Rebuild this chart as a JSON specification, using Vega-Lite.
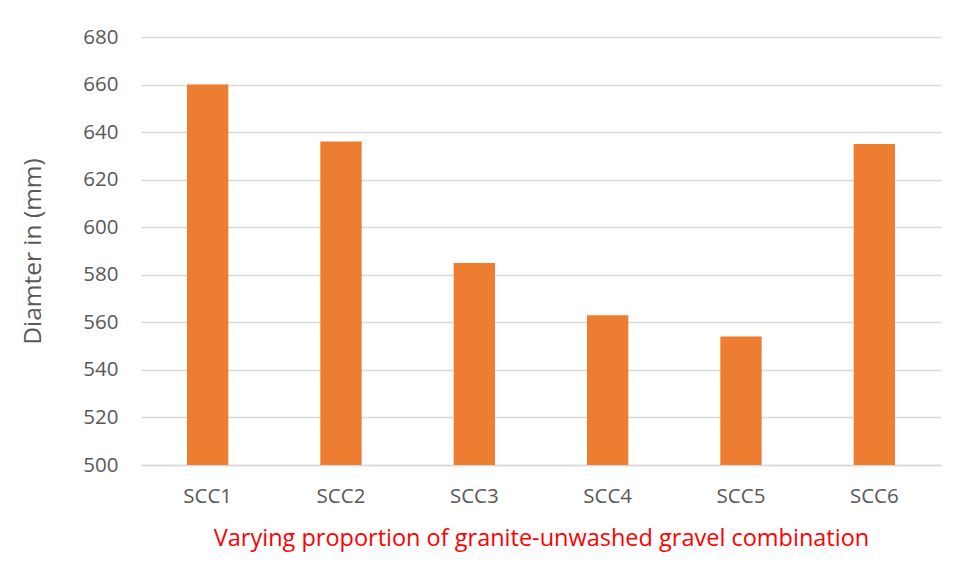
{
  "$schema": "https://vega.github.io/schema/vega-lite/v6.json",
  "width": 800,
  "height": 428,
  "autosize": {"type": "none"},
  "padding": {"left": 141, "top": 37, "right": 15, "bottom": 113},
  "background": "white",
  "data": {
    "values": [
      {"mix": "SCC1", "diameter": 660},
      {"mix": "SCC2", "diameter": 636},
      {"mix": "SCC3", "diameter": 585},
      {"mix": "SCC4", "diameter": 563},
      {"mix": "SCC5", "diameter": 554},
      {"mix": "SCC6", "diameter": 635}
    ]
  },
  "mark": {"type": "bar", "color": "#ED7D31"},
  "encoding": {
    "x": {
      "field": "mix",
      "type": "nominal",
      "sort": null,
      "scale": {"paddingInner": 0.69, "paddingOuter": 0.345},
      "axis": {
        "title": "Varying proportion of granite-unwashed gravel combination",
        "titleColor": "#FF0000",
        "titleFont": "Open Sans",
        "titleFontSize": 23.5,
        "titleFontWeight": "normal",
        "titlePadding": 20,
        "labelAngle": 0,
        "labelFont": "Open Sans",
        "labelFontSize": 20.5,
        "labelColor": "#595959",
        "labelPadding": 21,
        "ticks": false,
        "domainColor": "#D9D9D9",
        "domainWidth": 1.5
      }
    },
    "y": {
      "field": "diameter",
      "type": "quantitative",
      "scale": {"domain": [500, 680], "zero": false, "nice": false},
      "axis": {
        "title": "Diamter in (mm)",
        "titleColor": "#595959",
        "titleFont": "Open Sans",
        "titleFontSize": 24.5,
        "titleFontWeight": "normal",
        "titlePadding": 37,
        "values": [500, 520, 540, 560, 580, 600, 620, 640, 660, 680],
        "labelFont": "Open Sans",
        "labelFontSize": 20.5,
        "labelColor": "#595959",
        "labelPadding": 23,
        "ticks": false,
        "domain": false,
        "gridColor": "#D9D9D9",
        "gridWidth": 1.5
      }
    },
    "y2": {"datum": 500}
  },
  "config": {
    "view": {"stroke": null}
  }
}
